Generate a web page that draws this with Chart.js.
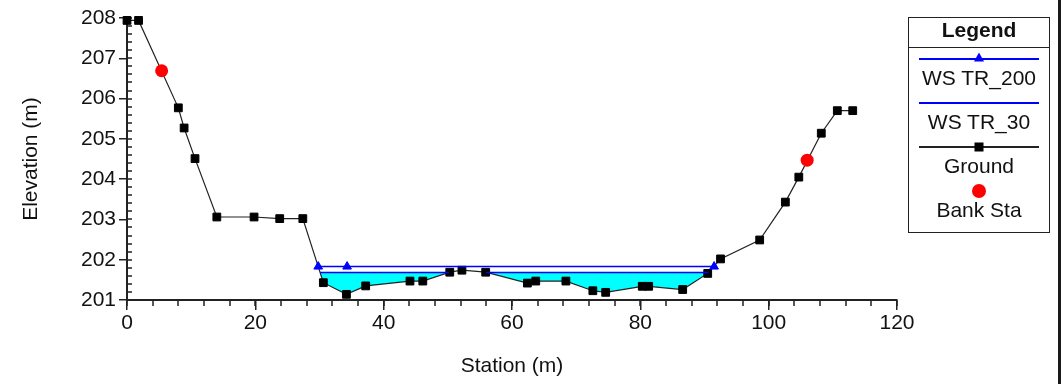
<!DOCTYPE html>
<html>
<head>
<meta charset="utf-8">
<title>Cross Section</title>
<script src="https://cdn.jsdelivr.net/npm/chart.js@4.4.1/dist/chart.umd.min.js"></script>
<style>
    html, body { margin: 0; padding: 0; background: #fff; }
    #wrap { position: relative; width: 1063px; height: 384px; overflow: hidden; }
    #chart { position: absolute; left: 0; top: 0; }
    #edge { position: absolute; left: 1058px; top: 0; width: 3px; height: 384px; background: #1a1a1a; }
    #legend {
        position: absolute; left: 908px; top: 17px; width: 140px; height: 214px;
        border: 1px solid #222; font-family: Arial, "Liberation Sans", sans-serif; color: #111;
    }
    .lg-title {
        height: 30px; line-height: 22px; box-sizing: border-box; padding-top: 1px;
        text-align: center; font-weight: bold; font-size: 21px; border-bottom: 1px solid #222;
    }
    .lg-item { height: 44px; position: relative; }
    .lg-line { position: absolute; left: 10px; right: 10px; top: 10px; height: 2px; }
    .lg-mark { position: absolute; left: 50%; top: 11px; transform: translate(-50%, -50%); }
    .lg-label {
        position: absolute; left: 0; right: 0; top: 19px; line-height: 22px;
        text-align: center; font-size: 21px; white-space: nowrap;
    }
</style>
</head>
<body>
<div id="wrap">
    <canvas id="chart" width="1063" height="384"></canvas>
    <div id="legend"><div class="lg-title">Legend</div></div>
    <div id="edge"></div>
</div>
<script>
// Ground profile (station m, elevation m)
const groundStation = [0, 1.8, 8.0, 8.9, 10.6, 14.0, 19.8, 23.8, 27.4, 30.6, 34.2, 37.2, 44.1, 46.1,
    50.3, 52.2, 55.9, 62.4, 63.7, 68.4, 72.6, 74.6, 80.3, 81.3, 86.6, 90.5, 92.5, 98.6, 102.6,
    104.7, 108.2, 110.7, 113.1];
const groundElev = [207.94, 207.94, 205.77, 205.27, 204.51, 203.06, 203.06, 203.02, 203.02, 201.43,
    201.14, 201.35, 201.47, 201.47, 201.69, 201.74, 201.69, 201.42, 201.47, 201.47, 201.23, 201.19,
    201.34, 201.34, 201.26, 201.66, 202.02, 202.49, 203.43, 204.05, 205.14, 205.70, 205.70];

// Water surfaces
const ws200Station = [29.8, 34.3, 91.5];
const ws200Elev = [201.83, 201.83, 201.83];
const ws30Station = [30.1, 50.2, 53.0, 56.0, 90.6];
const ws30Elev = [201.68, 201.68, null, 201.68, 201.68];

// Bank stations
const bankStation = [5.4, 106.0];
const bankElev = [206.69, 204.47];

// Axes
const xTicks = [0, 20, 40, 60, 80, 100, 120];
const yTicks = [201, 202, 203, 204, 205, 206, 207, 208];
const X_MINOR = 4;
const Y_MINOR = 0.2;

const AXIS_COLOR = '#222';
const TEXT_COLOR = '#111';

const zip = (xs, ys) => xs.map((x, i) => ({ x: x, y: ys[i] }));

Chart.defaults.font.family = 'Arial, "Liberation Sans", sans-serif';
Chart.defaults.font.size = 21;
Chart.defaults.color = TEXT_COLOR;

// small ticks between the labelled ones
const minorTicks = {
    id: 'minorTicks',
    beforeDatasetsDraw(chart) {
        const { ctx, chartArea, scales: { x, y } } = chart;
        ctx.save();
        ctx.strokeStyle = AXIS_COLOR;
        ctx.lineWidth = 1.5;
        ctx.beginPath();
        const nx = Math.round((xTicks[xTicks.length - 1] - xTicks[0]) / X_MINOR);
        for (let i = 0; i <= nx; i++) {
            const px = Math.round(x.getPixelForValue(xTicks[0] + i * X_MINOR));
            ctx.moveTo(px, chartArea.bottom);
            ctx.lineTo(px, chartArea.bottom + 6);
        }
        const ny = Math.round((yTicks[yTicks.length - 1] - yTicks[0]) / Y_MINOR);
        for (let i = 0; i <= ny; i++) {
            const py = Math.round(y.getPixelForValue(yTicks[0] + i * Y_MINOR));
            ctx.moveTo(chartArea.left, py);
            ctx.lineTo(chartArea.left + 5, py);
        }
        ctx.stroke();
        ctx.restore();
    }
};

const datasets = [
    {
        label: 'WS TR_200',
        data: zip(ws200Station, ws200Elev),
        borderColor: '#0000ff',
        backgroundColor: '#0000ff',
        borderWidth: 1.5,
        pointStyle: 'triangle',
        pointRadius: 5,
        pointBackgroundColor: '#0000ff',
        pointBorderColor: '#0000ff',
        pointBorderWidth: 1,
        fill: false,
        clip: false
    },
    {
        label: 'WS TR_30',
        data: zip(ws30Station, ws30Elev),
        borderColor: '#0000ff',
        backgroundColor: '#00ffff',
        borderWidth: 1.5,
        pointRadius: 0,
        fill: { target: 2, above: '#00ffff', below: 'rgba(0,0,0,0)' },
        clip: false
    },
    {
        label: 'Ground',
        data: zip(groundStation, groundElev),
        borderColor: '#222',
        backgroundColor: '#000',
        borderWidth: 1.2,
        pointStyle: 'rect',
        pointRadius: 5.5,
        pointBackgroundColor: '#000',
        pointBorderColor: '#000',
        pointBorderWidth: 1,
        fill: false,
        clip: false
    },
    {
        label: 'Bank Sta',
        data: zip(bankStation, bankElev),
        showLine: false,
        backgroundColor: '#ff0000',
        borderColor: '#ff0000',
        pointStyle: 'circle',
        pointRadius: 6.5,
        pointBackgroundColor: '#ff0000',
        pointBorderColor: '#ff0000',
        pointBorderWidth: 0,
        order: -1,
        clip: false
    }
];

const chart = new Chart(document.getElementById('chart'), {
    type: 'line',
    data: { datasets: datasets },
    plugins: [minorTicks],
    options: {
        responsive: false,
        animation: false,
        layout: { padding: { top: 18, right: 166, bottom: 0, left: 0 } },
        plugins: {
            legend: { display: false },
            tooltip: { enabled: false },
            filler: { drawTime: 'beforeDatasetsDraw' }
        },
        scales: {
            x: {
                type: 'linear',
                min: xTicks[0],
                max: xTicks[xTicks.length - 1],
                afterFit: (scale) => { scale.height = 84; },
                afterBuildTicks: (scale) => { scale.ticks = xTicks.map(v => ({ value: v })); },
                border: { color: AXIS_COLOR, width: 2 },
                grid: { drawOnChartArea: false, drawTicks: true, tickLength: 10, color: AXIS_COLOR, lineWidth: 1.5 },
                ticks: { padding: 1, maxRotation: 0, color: TEXT_COLOR },
                title: { display: true, text: 'Station (m)', color: TEXT_COLOR, padding: { top: 0, bottom: 5 } }
            },
            y: {
                type: 'linear',
                min: yTicks[0],
                max: yTicks[yTicks.length - 1],
                afterFit: (scale) => { scale.width = 127; },
                afterBuildTicks: (scale) => { scale.ticks = yTicks.map(v => ({ value: v })); },
                border: { color: AXIS_COLOR, width: 2 },
                grid: { drawOnChartArea: false, drawTicks: true, tickLength: 8, color: AXIS_COLOR, lineWidth: 1.5 },
                ticks: { padding: 3, color: TEXT_COLOR },
                title: { display: true, text: 'Elevation (m)', color: TEXT_COLOR, padding: { top: 19, bottom: 0 } }
            }
        }
    }
});

// Legend box built from the dataset styles
function renderLegend(chart) {
    const box = document.getElementById('legend');
    chart.data.datasets.forEach(ds => {
        const item = document.createElement('div');
        item.className = 'lg-item';

        if (ds.showLine !== false) {
            const line = document.createElement('div');
            line.className = 'lg-line';
            line.style.background = ds.borderColor;
            item.appendChild(line);
        }

        if (ds.pointRadius > 0) {
            const mark = document.createElement('div');
            mark.className = 'lg-mark';
            const c = ds.pointBackgroundColor;
            if (ds.pointStyle === 'triangle') {
                mark.style.width = '0';
                mark.style.height = '0';
                mark.style.borderLeft = '5px solid transparent';
                mark.style.borderRight = '5px solid transparent';
                mark.style.borderBottom = '9px solid ' + c;
                mark.style.top = '9px';
            } else if (ds.pointStyle === 'rect') {
                mark.style.width = '9px';
                mark.style.height = '9px';
                mark.style.background = c;
            } else {
                mark.style.width = '14px';
                mark.style.height = '14px';
                mark.style.borderRadius = '50%';
                mark.style.background = c;
            }
            item.appendChild(mark);
        }

        const label = document.createElement('div');
        label.className = 'lg-label';
        label.textContent = ds.label;
        item.appendChild(label);

        box.appendChild(item);
    });
}

renderLegend(chart);
</script>
</body>
</html>
